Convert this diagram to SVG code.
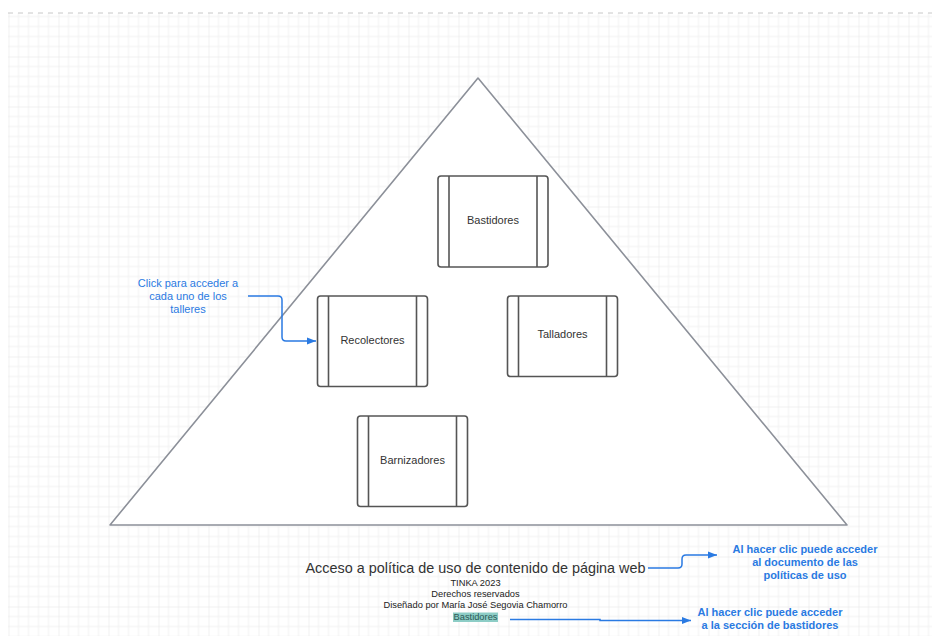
<svg xmlns="http://www.w3.org/2000/svg" width="932" height="636" viewBox="0 0 932 636">
<defs>
<pattern id="grid" patternUnits="userSpaceOnUse" x="8.5" y="6.5" width="50" height="50">
<path d="M10,0V50M20,0V50M30,0V50M40,0V50M0,10H50M0,20H50M0,30H50M0,40H50" stroke="#f1f1f1" stroke-width="1" fill="none"/>
<path d="M0,0V50M0,0H50" stroke="#e4e4e4" stroke-width="1" fill="none"/>
</pattern>
<marker id="arr" markerUnits="userSpaceOnUse" markerWidth="9" markerHeight="8" refX="9" refY="4" orient="auto">
<path d="M0,0.5 L9,4 L0,7.5 Z" fill="#2a7ae2"/>
</marker>
<style>
.node rect.box{fill:#fff;stroke:#555;stroke-width:1.6}
.node line{stroke:#555;stroke-width:1.6}
.lbl{font-family:"Liberation Sans",Arial,sans-serif;font-size:11px;fill:#333;text-anchor:middle}
.blue{font-family:"Liberation Sans",Arial,sans-serif;font-size:11px;fill:#2a7ae2;text-anchor:middle}
.bold{font-weight:bold}
.small{font-family:"Liberation Sans",Arial,sans-serif;font-size:9.3px;fill:#222;text-anchor:middle}
.conn path{fill:none;stroke:#2a7ae2;stroke-width:1.5}
</style>
</defs>
<rect width="932" height="636" fill="#fff"/>
<rect x="8" y="13" width="924" height="623" fill="url(#grid)"/>
<line x1="8" y1="13" x2="932" y2="13" stroke="#c8c8c8" stroke-width="1" stroke-dasharray="5,5"/>

<g id="triangle">
<path d="M478,78 L847,525 L110,525 Z" fill="#fff" stroke="#8c9099" stroke-width="1.6" stroke-linejoin="round"/>
</g>

<g id="node-bastidores" class="node">
<rect class="box" x="438" y="176" width="110" height="91" rx="3"/>
<line x1="449" y1="176" x2="449" y2="267"/>
<line x1="537" y1="176" x2="537" y2="267"/>
<text class="lbl" x="493" y="224">Bastidores</text>
</g>
<g id="node-recolectores" class="node">
<rect class="box" x="317.5" y="296" width="110" height="90.5" rx="3"/>
<line x1="328.5" y1="296" x2="328.5" y2="386.5"/>
<line x1="416.5" y1="296" x2="416.5" y2="386.5"/>
<text class="lbl" x="372.5" y="344">Recolectores</text>
</g>
<g id="node-talladores" class="node">
<rect class="box" x="507.5" y="296" width="110" height="80.5" rx="3"/>
<line x1="518.5" y1="296" x2="518.5" y2="376.5"/>
<line x1="606.5" y1="296" x2="606.5" y2="376.5"/>
<text class="lbl" x="562.5" y="338">Talladores</text>
</g>
<g id="node-barnizadores" class="node">
<rect class="box" x="357.5" y="416" width="110" height="90.5" rx="3"/>
<line x1="368.5" y1="416" x2="368.5" y2="506.5"/>
<line x1="456.5" y1="416" x2="456.5" y2="506.5"/>
<text class="lbl" x="412.5" y="464">Barnizadores</text>
</g>

<g id="note-click">
<text class="blue" x="188" y="287">Click para acceder a</text>
<text class="blue" x="188" y="300">cada uno de los</text>
<text class="blue" x="188" y="313">talleres</text>
</g>

<g id="footer">
<text x="475.5" y="573" font-family="'Liberation Sans',Arial,sans-serif" font-size="14.4" fill="#333" text-anchor="middle">Acceso a política de uso de contenido de página web</text>
<text class="small" x="475.5" y="586">TINKA 2023</text>
<text class="small" x="475.5" y="597">Derechos reservados</text>
<text class="small" x="475.5" y="608">Diseñado por María José Segovia Chamorro</text>
<rect x="453" y="612.5" width="45" height="9.5" fill="#8dcdc6"/>
<text class="small" x="475.5" y="620" fill="#2c5a56" style="fill:#2c5a56">Bastidores</text>
</g>

<g id="note-politicas">
<text class="blue bold" x="805" y="553">Al hacer clic puede acceder</text>
<text class="blue bold" x="805" y="566">al documento de las</text>
<text class="blue bold" x="805" y="579">políticas de uso</text>
</g>
<g id="note-bastidores">
<text class="blue bold" x="770" y="615.5">Al hacer clic puede acceder</text>
<text class="blue bold" x="770" y="629">a la sección de bastidores</text>
</g>

<g id="connectors" class="conn">
<path d="M248,296 H278 Q282,296 282,300 V337 Q282,341 286,341 H316" marker-end="url(#arr)"/>
<path d="M648,568 H678 Q682,568 682,564 V559 Q682,555 686,555 H717" marker-end="url(#arr)"/>
<path d="M510,619.5 H600 V620.5 H691" marker-end="url(#arr)"/>
</g>
</svg>
